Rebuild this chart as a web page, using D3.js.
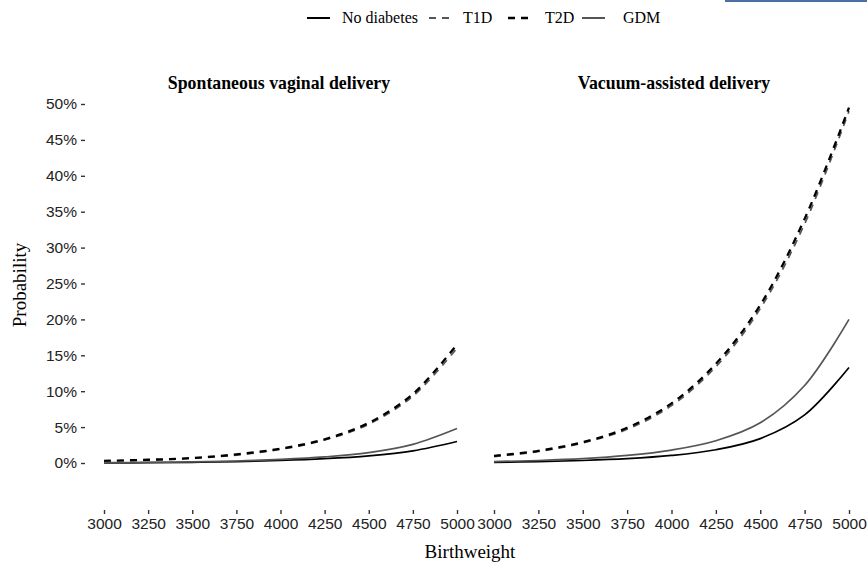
<!DOCTYPE html>
<html>
<head>
<meta charset="utf-8">
<script src="https://cdn.jsdelivr.net/npm/d3@7"></script>
<style>
  body { margin: 0; background: #fff; }
  svg { display: block; }
</style>
</head>
<body>
<div id="chart"></div>
<script>
// birthweight grid (g)
const birthweights = [3000, 3250, 3500, 3750, 4000, 4250, 4500, 4750, 5000];
const xTicks = [3000, 3250, 3500, 3750, 4000, 4250, 4500, 4750, 5000];
const yTicks = [0, 0.05, 0.10, 0.15, 0.20, 0.25, 0.30, 0.35, 0.40, 0.45, 0.50];

const panelTitles = ["Spontaneous vaginal delivery", "Vacuum-assisted delivery"];
const groups = ["No diabetes", "T1D", "T2D", "GDM"];

// probabilities, spontaneous vaginal delivery
const spontNoDiabetes = [0.0000, 0.0005, 0.0010, 0.0020, 0.0035, 0.0060, 0.0100, 0.0170, 0.0300];
const spontT1D        = [0.0025, 0.0040, 0.0065, 0.0110, 0.0190, 0.0320, 0.0540, 0.0930, 0.1600];
const spontT2D        = [0.0030, 0.0045, 0.0070, 0.0120, 0.0200, 0.0330, 0.0560, 0.0960, 0.1650];
const spontGDM        = [0.0005, 0.0008, 0.0015, 0.0028, 0.0050, 0.0085, 0.0145, 0.0260, 0.0480];

// vacuum-assisted delivery
const vacNoDiabetes = [0.0010, 0.0020, 0.0035, 0.0060, 0.0105, 0.0185, 0.0340, 0.0670, 0.1330];
const vacT1D        = [0.0090, 0.0160, 0.0280, 0.0470, 0.0800, 0.1340, 0.2150, 0.3330, 0.4900];
const vacT2D        = [0.0100, 0.0170, 0.0290, 0.0490, 0.0830, 0.1380, 0.2200, 0.3400, 0.4950];
const vacGDM        = [0.0020, 0.0035, 0.0060, 0.0105, 0.0180, 0.0310, 0.0560, 0.1080, 0.2000];

const panelData = [
    [spontNoDiabetes, spontT1D, spontT2D, spontGDM],
    [vacNoDiabetes, vacT1D, vacT2D, vacGDM]
];

const STYLES = {
    "No diabetes": { color: "#000000", dash: null, width: 1.7 },
    "T1D": { color: "#555555", dash: "7,6", width: 1.7 },
    "T2D": { color: "#000000", dash: "7,6", width: 2.3 },
    "GDM": { color: "#555555", dash: null, width: 1.7 }
};

const WIDTH = 867, HEIGHT = 564;

const SVG = d3.select("#chart").append("svg")
    .attr("width", WIDTH)
    .attr("height", HEIGHT);

// small blue strip in the top right corner of the source image
SVG.append("rect")
    .attr("x", 725).attr("y", 0)
    .attr("width", 142).attr("height", 2)
    .attr("fill", "#4a6fa5");

const y = d3.scaleLinear()
    .domain([0, 0.5])
    .range([463, 104]);

const panelRanges = [[104, 457], [494, 849]];
const titleCenters = [279, 674];

panelRanges.forEach((range, p) => {
    const x = d3.scaleLinear()
        .domain([3000, 5000])
        .range(range);

    const g = SVG.append("g");

    // panel title
    g.append("text")
        .attr("x", titleCenters[p])
        .attr("y", 89)
        .attr("text-anchor", "middle")
        .style("font-family", "'Liberation Serif', 'Times New Roman', serif")
        .style("font-weight", "bold")
        .style("font-size", "17.8px")
        .text(panelTitles[p]);

    // x axis
    const xAxis = g.append("g")
        .attr("transform", "translate(0,510)")
        .call(d3.axisBottom(x).tickValues(xTicks).tickFormat(d3.format("d")).tickSize(4).tickPadding(4));
    xAxis.select(".domain").remove();
    xAxis.selectAll(".tick line").attr("stroke", "#333").attr("stroke-width", 1.4);
    xAxis.selectAll(".tick text")
        .attr("fill", "#222")
        .style("font-family", "'Liberation Sans', Arial, sans-serif")
        .style("font-size", "15.5px");

    // y axis only on the first panel
    if (p === 0) {
        const yAxis = g.append("g")
            .attr("transform", "translate(85,0)")
            .call(d3.axisLeft(y).tickValues(yTicks).tickFormat(d3.format(".0%")).tickSize(4).tickPadding(4));
        yAxis.select(".domain").remove();
        yAxis.selectAll(".tick line").attr("stroke", "#333").attr("stroke-width", 1.4);
        yAxis.selectAll(".tick text")
            .attr("fill", "#222")
            .style("font-family", "'Liberation Sans', Arial, sans-serif")
            .style("font-size", "15.5px");
    }

    const line = d3.line()
        .x((d, i) => x(birthweights[i]))
        .y(d => y(d))
        .curve(d3.curveCatmullRom.alpha(0.5));

    groups.forEach((name, k) => {
        const st = STYLES[name];
        g.append("path")
            .datum(panelData[p][k])
            .attr("d", line)
            .attr("fill", "none")
            .attr("stroke", st.color)
            .attr("stroke-width", st.width)
            .attr("stroke-dasharray", st.dash);
    });
});

// axis titles
SVG.append("text")
    .attr("transform", "translate(26,285) rotate(-90)")
    .attr("text-anchor", "middle")
    .style("font-family", "'Liberation Serif', 'Times New Roman', serif")
    .style("font-size", "19px")
    .text("Probability");

SVG.append("text")
    .attr("x", 470)
    .attr("y", 558)
    .attr("text-anchor", "middle")
    .style("font-family", "'Liberation Serif', 'Times New Roman', serif")
    .style("font-size", "19px")
    .text("Birthweight");

// legend
const legendItems = [
    { name: "No diabetes", x0: 307, tx: 342 },
    { name: "T1D", x0: 429, tx: 463 },
    { name: "T2D", x0: 508, tx: 545 },
    { name: "GDM", x0: 582, tx: 623 }
];
const legend = SVG.append("g");
legendItems.forEach(item => {
    const st = STYLES[item.name];
    legend.append("line")
        .attr("x1", item.x0).attr("x2", item.x0 + 23)
        .attr("y1", 18).attr("y2", 18)
        .attr("stroke", st.color)
        .attr("stroke-width", st.width + 0.3)
        .attr("stroke-dasharray", st.dash ? "7,6" : null);
    legend.append("text")
        .attr("x", item.tx)
        .attr("y", 23)
        .style("font-family", "'Liberation Serif', 'Times New Roman', serif")
        .style("font-size", "16px")
        .text(item.name);
});
</script>
</body>
</html>
